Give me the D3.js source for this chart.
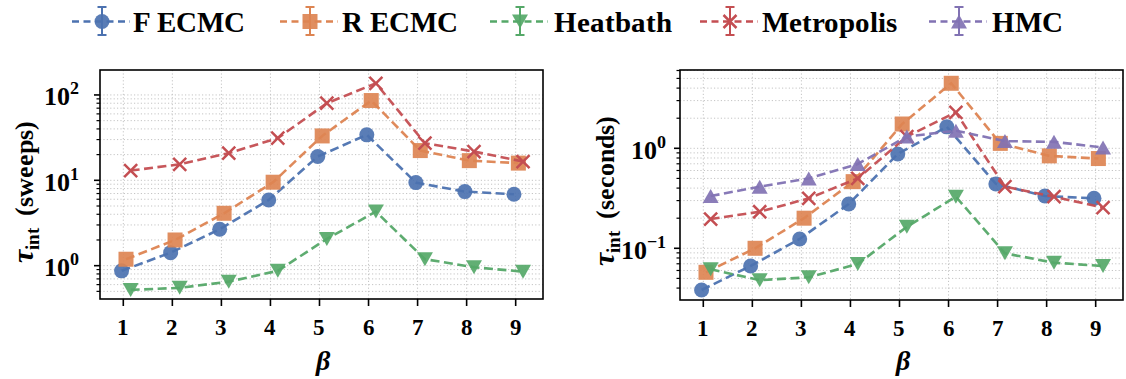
<!DOCTYPE html>
<html><head><meta charset="utf-8">
<script src="https://cdn.jsdelivr.net/npm/d3@7"></script>
<style>
@font-face{font-family:"RefSerif";font-weight:700;font-style:normal;src:local("Liberation Serif Bold"),local("LiberationSerif-Bold"),local("Times New Roman Bold");}
@font-face{font-family:"RefSerif";font-weight:700;font-style:italic;src:local("Liberation Serif Bold Italic"),local("LiberationSerif-BoldItalic"),local("Times New Roman Bold Italic");}
</style>
</head><body style="margin:0">
<svg id="c" width="1126" height="379" style="font-family:RefSerif,'Liberation Serif','Times New Roman',serif"></svg>
<script>
const betas=[1,2,3,4,5,6,7,8,9];
const seriesNames=["F ECMC","R ECMC","Heatbath","Metropolis","HMC"];
const colors=["#4C72B0","#DD8452","#55A868","#C44E52","#8172B3"];
const markerTypes=["circle","square","tdown","x","tup"];
const xOffsets=[-0.035,0.055,0.15,0.15,0.15];
// left panel: tau_int in sweeps
const sweepsF=[0.87,1.42,2.67,5.89,19.0,34.1,9.4,7.37,6.87];
const sweepsR=[1.19,2.0,4.11,9.5,33.1,86,22.3,17.0,15.9];
const sweepsHeat=[0.52,0.55,0.65,0.87,2.06,4.3,1.19,0.96,0.85];
const sweepsMetro=[13.0,15.4,20.8,31.2,80,137,27.2,21.7,16.6];
// right panel: tau_int in seconds
const secF=[0.0383,0.0665,0.124,0.277,0.877,1.64,0.44,0.333,0.316];
const secR=[0.0575,0.1,0.2,0.464,1.75,4.47,1.12,0.84,0.79];
const secHeat=[0.0617,0.048,0.0513,0.0697,0.164,0.328,0.089,0.0718,0.0665];
const secMetro=[0.196,0.232,0.316,0.5,1.31,2.29,0.413,0.328,0.255];
const secHMC=[0.333,0.413,0.50,0.697,1.31,1.50,1.18,1.16,1.02];
const xTickLabels=["1","2","3","4","5","6","7","8","9"];

const FAMS="RefSerif, \"Liberation Serif\", \"Times New Roman\", serif";
const svg=d3.select("#c");
svg.append("rect").attr("width",1126).attr("height",379).attr("fill","#fff");
function txt(sel){return sel.append("text").attr("font-family",FAMS).style("font-family",FAMS).style("font-weight","bold");}

function drawMarker(g,type,cx,cy,color){
  if(type==="circle"){
    g.append("circle").attr("cx",cx).attr("cy",cy).attr("r",7.5).attr("fill",color).attr("fill-opacity",0.92);
  }else if(type==="square"){
    g.append("rect").attr("x",cx-7.5).attr("y",cy-7.5).attr("width",15).attr("height",15).attr("fill",color).attr("fill-opacity",0.92);
  }else if(type==="tdown"){
    g.append("path").attr("d",`M${cx-8},${cy-7}L${cx+8},${cy-7}L${cx},${cy+7}Z`).attr("fill",color).attr("fill-opacity",0.92);
  }else if(type==="tup"){
    g.append("path").attr("d",`M${cx-8},${cy+7}L${cx+8},${cy+7}L${cx},${cy-7}Z`).attr("fill",color).attr("fill-opacity",0.92);
  }else if(type==="x"){
    g.append("path").attr("d",`M${cx-6.5},${cy-6.5}L${cx+6.5},${cy+6.5}M${cx-6.5},${cy+6.5}L${cx+6.5},${cy-6.5}`)
      .attr("stroke",color).attr("stroke-width",2.5).attr("fill","none");
  }
}

function panel(opt){
  const {x0,x1,y0,y1,ylim,series,label,labelX,labelStart,tickEnd}=opt;
  const x=d3.scaleLinear().domain([0.525,9.557]).range([x0,x1]);
  const y=d3.scaleLog().domain(ylim).range([y1,y0]);
  const g=svg.append("g");
  const grid=g.append("g").attr("stroke","#c4c4c4").attr("stroke-width",1).attr("stroke-dasharray","1.2,2.2");
  betas.forEach(b=>grid.append("line").attr("x1",x(b)).attr("x2",x(b)).attr("y1",y0).attr("y2",y1));
  const minors=[],majors=[];
  for(let e=-3;e<=3;e++){
    for(let m=1;m<10;m++){
      const v=m*Math.pow(10,e);
      if(v>=ylim[0]&&v<=ylim[1]){ (m===1?majors:minors).push(v); }
    }
  }
  majors.concat(minors).forEach(v=>grid.append("line").attr("x1",x0).attr("x2",x1).attr("y1",y(v)).attr("y2",y(v)));
  series.forEach(s=>{
    const i=s.idx;
    const pts=betas.map((b,k)=>[x(b+xOffsets[i]),y(s.values[k])]);
    g.append("path").attr("d",d3.line()(pts)).attr("fill","none").attr("stroke",colors[i])
      .attr("stroke-width",2.6).attr("stroke-dasharray","9,4.5").attr("stroke-opacity",0.95);
    const mg=g.append("g");
    pts.forEach(p=>drawMarker(mg,markerTypes[i],p[0],p[1],colors[i]));
  });
  g.append("rect").attr("x",x0).attr("y",y0).attr("width",x1-x0).attr("height",y1-y0)
    .attr("fill","none").attr("stroke","#000").attr("stroke-width",1.6);
  betas.forEach((b,k)=>{
    g.append("line").attr("x1",x(b)).attr("x2",x(b)).attr("y1",y1).attr("y2",y1+7).attr("stroke","#000").attr("stroke-width",1.6);
    txt(g).attr("x",x(b)).attr("y",y1+36).attr("text-anchor","middle").style("font-size","23px").text(xTickLabels[k]);
  });
  majors.forEach(v=>{
    g.append("line").attr("x1",x0-6).attr("x2",x0).attr("y1",y(v)).attr("y2",y(v)).attr("stroke","#000").attr("stroke-width",1.6);
    const e=Math.round(Math.log10(v));
    const t=txt(g).attr("x",tickEnd).attr("y",y(v)+10.5).attr("text-anchor","end").style("font-size","26px");
    t.append("tspan").text("10");
    t.append("tspan").style("font-size","18px").attr("dy",-11).text(e<0?"\u2212"+(-e):String(e));
  });
  minors.forEach(v=>{
    g.append("line").attr("x1",x0-3.5).attr("x2",x0).attr("y1",y(v)).attr("y2",y(v)).attr("stroke","#000").attr("stroke-width",1.2);
  });
  txt(g).attr("x",(x0+x1)/2+1).attr("y",370).attr("text-anchor","middle")
    .style("font-style","italic").style("font-size","28px").text("\u03b2");
  const yl=txt(g).attr("transform",`translate(${labelX},${labelStart}) rotate(-90)`).style("font-size","26px");
  yl.append("tspan").style("font-style","italic").style("font-size","30px").text("\u03c4");
  yl.append("tspan").style("font-size","19px").attr("dy",6).text("int");
  yl.append("tspan").attr("dy",-6).attr("dx",12).text(label);
}

panel({x0:100,x1:543,y0:70,y1:299,ylim:[0.407,196],label:"(sweeps)",labelX:33,labelStart:263,tickEnd:79,
  series:[{idx:0,values:sweepsF},{idx:1,values:sweepsR},{idx:2,values:sweepsHeat},{idx:3,values:sweepsMetro}]});
panel({x0:680,x1:1123,y0:70,y1:300,ylim:[0.0304,6.07],label:"(seconds)",labelX:614,labelStart:266,tickEnd:666,
  series:[{idx:0,values:secF},{idx:1,values:secR},{idx:2,values:secHeat},{idx:3,values:secMetro},{idx:4,values:secHMC}]});

const legMarkX=[102,310,520,730,959];
const legTextX=[133,342,554,762,992];
const lg=svg.append("g");
seriesNames.forEach((n,i)=>{
  const cx=legMarkX[i],cy=21.5,c=colors[i];
  lg.append("line").attr("x1",cx-30).attr("x2",cx+28).attr("y1",cy).attr("y2",cy).attr("stroke",c)
    .attr("stroke-width",2.6).attr("stroke-dasharray","7,4.5");
  lg.append("line").attr("x1",cx).attr("x2",cx).attr("y1",7).attr("y2",35).attr("stroke",c).attr("stroke-width",2);
  lg.append("line").attr("x1",cx-4.5).attr("x2",cx+4.5).attr("y1",7).attr("y2",7).attr("stroke",c).attr("stroke-width",2);
  lg.append("line").attr("x1",cx-4.5).attr("x2",cx+4.5).attr("y1",35).attr("y2",35).attr("stroke",c).attr("stroke-width",2);
  drawMarker(lg,markerTypes[i],cx,cy,c);
  txt(lg).attr("x",legTextX[i]).attr("y",32).style("font-size","29px").text(n);
});
</script></body></html>
